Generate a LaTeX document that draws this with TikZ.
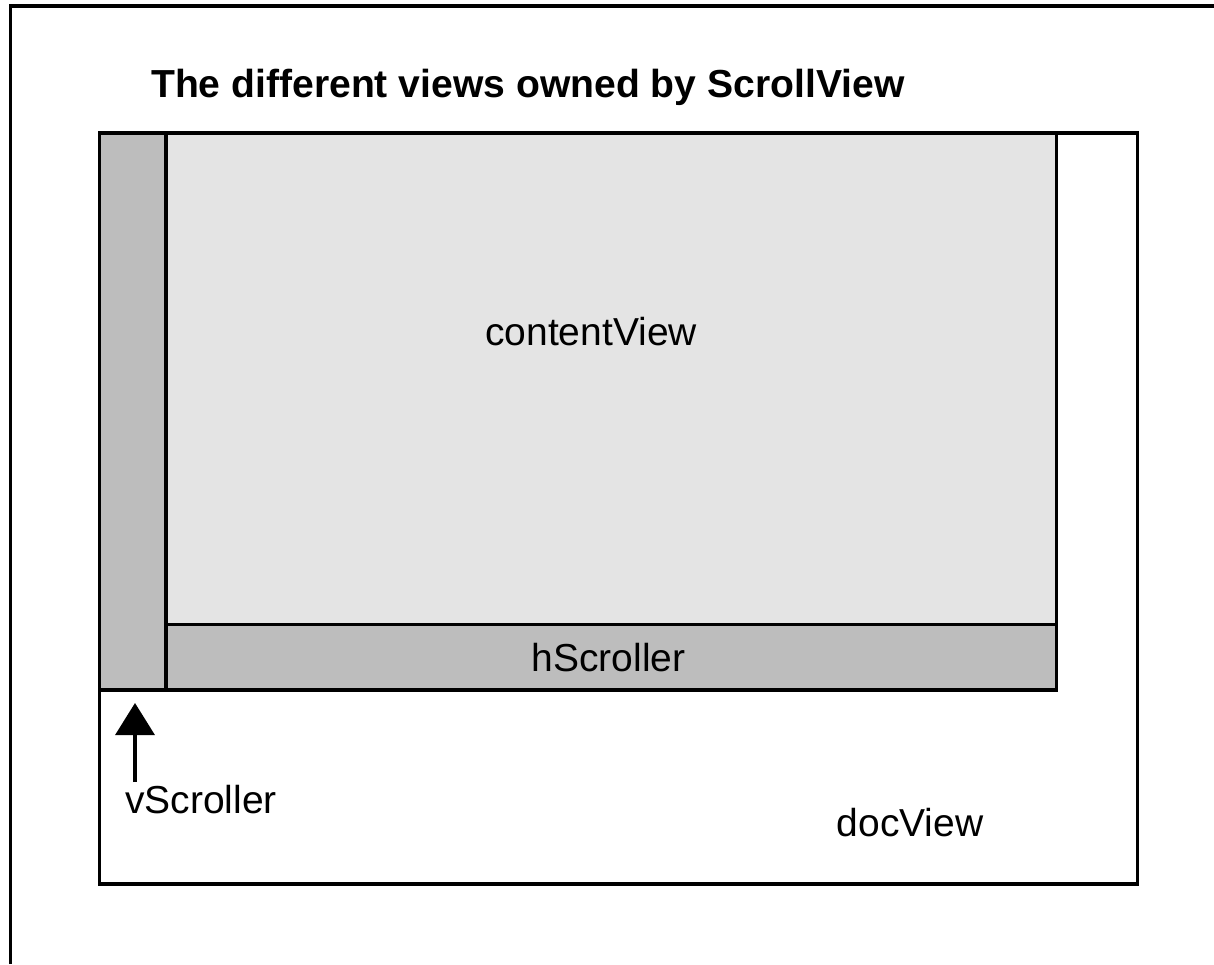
\documentclass[tikz,border=0pt]{standalone}
\usepackage{fontspec}
\setmainfont{Liberation Sans}
\usetikzlibrary{arrows.meta}
\definecolor{scrollgray}{gray}{0.74}
\definecolor{contentgray}{gray}{0.894}
\tikzset{
  view/.style={draw=black, line width=3.3pt, inner sep=0pt, outer sep=0pt, anchor=north west},
  label/.style={inner sep=0pt, anchor=base west, font=\fontsize{39}{46}\selectfont},
  heading/.style={inner sep=0pt, anchor=base west, font=\fontsize{39.1}{46}\selectfont\bfseries},
  pointer/.style={line width=3.5pt, -{Triangle[width=39pt,length=32pt]}},
  frame/.style={line width=3.3pt}
}
\begin{document}
\begin{tikzpicture}[x=1pt,y=1pt]
  \useasboundingbox (0,0) rectangle (1214,-964);
  % open frame: top and left edges only
  \draw[frame] (10.5,-964) -- (10.5,-6) -- (1214,-6);

  \node[heading] (title) at (151,-97.5) {The different views owned by ScrollView};

  % document view with its children
  \node[view, fill=white, minimum width=1038.2pt, minimum height=751pt] (doc) at (99.5,-133) {};
  \node[view, fill=contentgray, minimum width=890.7pt, minimum height=491.5pt] (content) at (166,-133) {};
  \node[view, fill=scrollgray, minimum width=890.7pt, minimum height=65.5pt] (hscroll) at (166,-624.5) {};
  \node[view, fill=scrollgray, minimum width=66.5pt, minimum height=557pt] (vscroll) at (99.5,-133) {};

  \node[label] (contentlabel) at (485,-345) {contentView};
  \node[label] (hlabel) at (531.5,-671.5) {hScroller};
  \node[label] (doclabel) at (836.5,-836.5) {docView};
  \node[label] (vlabel) at (125,-813) {vScroller};

  \coordinate (vtail) at (135,-782);
  \coordinate (vtip) at (135,-703);
  \draw[pointer] (vtail) -- (vtip);
\end{tikzpicture}
\end{document}
